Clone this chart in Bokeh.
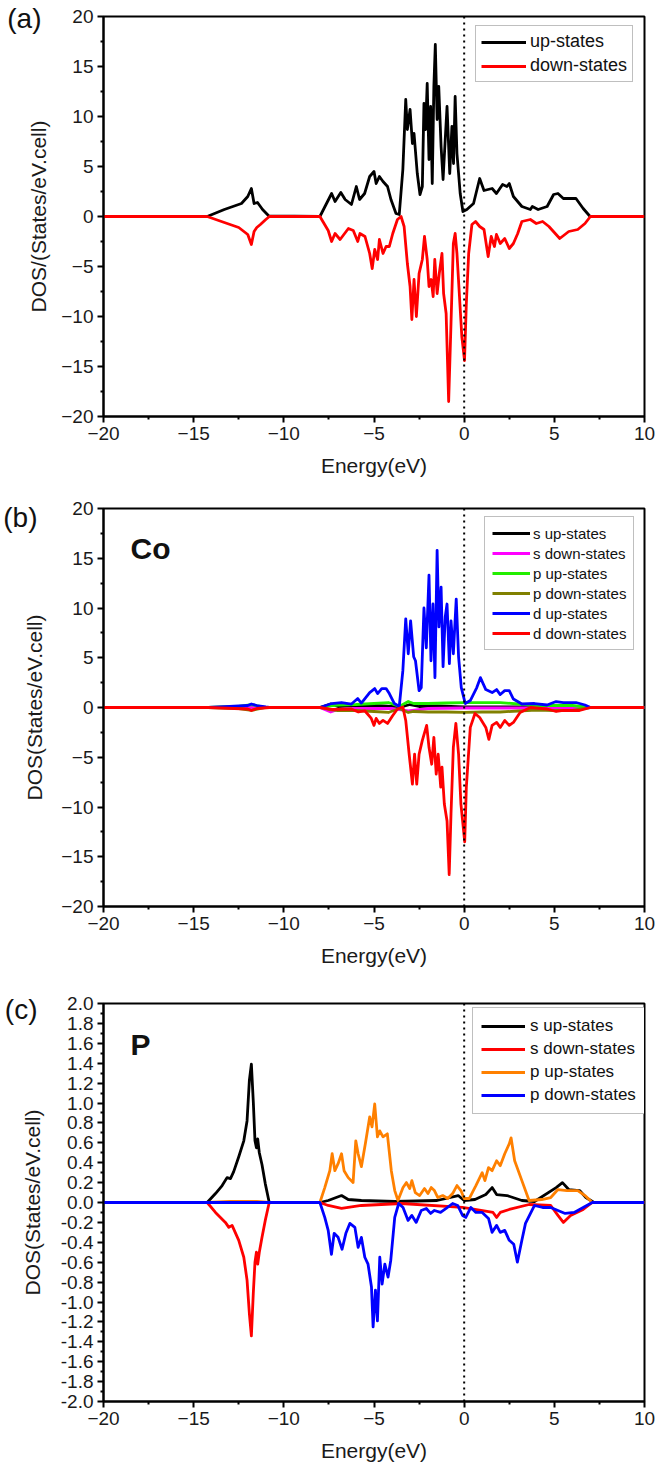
from bokeh.plotting import figure
from bokeh.models import Range1d, FixedTicker, Span, Label, Legend, LegendItem, LinearAxis
from bokeh.layouts import column
from bokeh.embed import file_html
from bokeh.resources import INLINE

# ---------------- data (energy in eV, DOS) ----------------
x_ticks = [-20, -15, -10, -5, 0, 5, 10]
x_minor = [-17.5, -12.5, -7.5, -2.5, 2.5, 7.5]
y_ticks_ab = [-20, -15, -10, -5, 0, 5, 10, 15, 20]
y_minor_ab = [-17.5, -12.5, -7.5, -2.5, 2.5, 7.5, 12.5, 17.5]
y_ticks_c = [-2.0, -1.8, -1.6, -1.4, -1.2, -1.0, -0.8, -0.6, -0.4, -0.2, 0.0,
             0.2, 0.4, 0.6, 0.8, 1.0, 1.2, 1.4, 1.6, 1.8, 2.0]
y_tick_labels_c = ["-2.0", "-1.8", "-1.6", "-1.4", "-1.2", "-1.0", "-0.8", "-0.6", "-0.4", "-0.2", "0.0",
                   "0.2", "0.4", "0.6", "0.8", "1.0", "1.2", "1.4", "1.6", "1.8", "2.0"]
y_minor_c = [-1.9, -1.7, -1.5, -1.3, -1.1, -0.9, -0.7, -0.5, -0.3, -0.1,
             0.1, 0.3, 0.5, 0.7, 0.9, 1.1, 1.3, 1.5, 1.7, 1.9]

# panel (a): total DOS
a_up = [(-20, 0), (-14.25, 0), (-13.3, 0.7), (-12.35, 1.3), (-12.0, 2.0), (-11.8, 2.8), (-11.65, 1.3),
        (-11.46, 1.4), (-11.18, 0.7), (-10.83, 0.05), (-8.0, 0), (-7.35, 2.3), (-7.16, 1.5), (-6.84, 2.4),
        (-6.6, 1.7), (-6.25, 1.2), (-5.98, 3.0), (-5.8, 1.7), (-5.52, 2.3), (-5.24, 4.0), (-5.0, 4.5),
        (-4.88, 3.3), (-4.7, 4.0), (-4.5, 3.5), (-4.25, 3.0), (-4.06, 1.7), (-3.78, 0.3), (-3.6, 0.2),
        (-3.4, 4.7), (-3.24, 11.7), (-3.15, 8.7), (-3.0, 10.7), (-2.87, 7.3), (-2.78, 8.3), (-2.6, 4.3),
        (-2.45, 2.2), (-2.32, 3.0), (-2.23, 11.3), (-2.14, 8.7), (-2.05, 13.3), (-1.95, 5.7), (-1.86, 11.0),
        (-1.77, 3.3), (-1.68, 13.0), (-1.6, 17.2), (-1.5, 9.7), (-1.41, 13.0), (-1.28, 7.0), (-1.17, 3.7),
        (-1.05, 7.7), (-0.95, 11.0), (-0.8, 4.3), (-0.68, 9.0), (-0.59, 5.3), (-0.5, 12.0), (-0.4, 6.3),
        (-0.31, 4.3), (-0.22, 2.3), (-0.07, 0.5), (0.15, 0.7), (0.52, 1.3), (0.86, 3.8), (1.1, 2.6),
        (1.55, 2.8), (1.79, 2.3), (2.13, 3.2), (2.37, 3.0), (2.5, 3.3), (2.73, 2.0), (3.2, 1.0), (3.67, 0.7),
        (3.78, 1.0), (4.1, 0.7), (4.6, 1.0), (4.96, 2.2), (5.2, 2.3), (5.5, 1.8), (6.2, 1.8), (6.6, 0.8),
        (6.96, 0.05), (7.1, 0), (10, 0)]
a_down = [(-20, 0), (-14.25, 0), (-13.3, -0.6), (-12.5, -1.1), (-12.0, -1.8), (-11.8, -2.8), (-11.65, -1.5),
          (-11.5, -1.1), (-11.3, -0.8), (-11.0, -0.3), (-10.8, 0), (-8.0, 0), (-7.54, -1.4), (-7.35, -2.5),
          (-7.16, -1.7), (-6.88, -2.3), (-6.42, -1.2), (-6.15, -1.4), (-5.9, -2.5), (-5.78, -1.7), (-5.5, -2.0),
          (-5.24, -3.7), (-5.1, -5.2), (-4.96, -3.3), (-4.8, -4.3), (-4.7, -2.3), (-4.5, -3.7), (-4.33, -3.0),
          (-4.15, -3.0), (-3.96, -1.7), (-3.7, -0.3), (-3.5, 0.0), (-3.33, -1.0), (-3.15, -4.7), (-3.0, -7.0),
          (-2.9, -10.3), (-2.78, -6.3), (-2.65, -10.0), (-2.5, -5.7), (-2.32, -4.3), (-2.2, -2.0), (-2.05, -4.3),
          (-1.95, -7.0), (-1.83, -6.3), (-1.72, -8.0), (-1.63, -4.3), (-1.5, -7.7), (-1.38, -5.7), (-1.23, -3.7),
          (-1.14, -7.7), (-1.0, -9.7), (-0.86, -18.5), (-0.73, -10.7), (-0.6, -2.7), (-0.5, -1.7), (-0.4, -3.7),
          (-0.26, -8.0), (-0.13, -12.0), (0.02, -14.4), (0.12, -8.7), (0.25, -3.7), (0.43, -0.8), (0.63, -0.5),
          (0.86, -1.0), (1.1, -1.3), (1.33, -4.0), (1.5, -2.0), (1.68, -3.0), (1.79, -1.8), (2.0, -2.7),
          (2.25, -2.2), (2.5, -3.2), (2.73, -2.7), (2.97, -1.7), (3.2, -0.5), (3.67, -0.3), (4.0, -0.7),
          (4.35, -0.5), (4.7, -1.0), (5.1, -1.8), (5.3, -2.2), (5.8, -1.5), (6.3, -1.3), (6.7, -0.7),
          (7.0, 0), (10, 0)]

# panel (b): Co partial DOS
b_s_up = [(-20, 0), (-14.2, 0), (-12, 0.05), (-11, 0), (-8, 0), (-7.4, 0.35), (-7.0, 0.1), (-6.5, 0.15),
          (-5, 0.2), (-3.5, 0.05), (-3.0, 0.3), (-2.5, 0.1), (-1.5, 0.15), (0, 0.05), (1, 0.05), (3, 0.05),
          (5, 0.05), (7, 0), (10, 0)]
b_s_down = [(-20, 0), (-8, 0), (-7.4, -0.45), (-7.0, -0.2), (-6.0, -0.1), (-4, -0.1), (-3.1, -0.35),
            (-2.0, -0.1), (0, -0.05), (3, -0.05), (7, 0), (10, 0)]
b_p_up = [(-20, 0), (-14.2, 0), (-12.5, 0.1), (-11.8, 0.3), (-11, 0), (-8, 0), (-7.5, 0.15), (-7, 0.25),
          (-6, 0.3), (-5, 0.4), (-4.2, 0.5), (-3.6, 0.1), (-3.1, 0.6), (-2.8, 0.4), (-2.0, 0.4), (-1, 0.45),
          (0, 0.5), (1, 0.5), (2, 0.5), (3, 0.35), (4, 0.2), (5, 0.2), (6, 0.2), (7, 0), (10, 0)]
b_p_down = [(-20, 0), (-14.2, 0), (-12.5, -0.1), (-11.8, -0.3), (-11, 0), (-8, 0), (-7.5, -0.2), (-7, -0.3),
            (-6, -0.3), (-5, -0.4), (-4.2, -0.5), (-3.6, -0.1), (-3.1, -0.5), (-2.8, -0.4), (-2.0, -0.45),
            (-1, -0.45), (0, -0.5), (1, -0.45), (2, -0.45), (3, -0.35), (4, -0.25), (5, -0.3), (6, -0.3),
            (7, 0), (10, 0)]
b_d_up = [(-20, 0), (-14.2, 0), (-13, 0.1), (-12, 0.2), (-11.8, 0.35), (-11.5, 0.2), (-11, 0.05), (-10.8, 0),
          (-8.0, 0), (-7.35, 0.4), (-6.8, 0.5), (-6.25, 0.35), (-5.9, 0.9), (-5.7, 0.45), (-5.24, 1.5),
          (-4.96, 1.9), (-4.8, 1.4), (-4.57, 1.9), (-4.33, 1.9), (-4.15, 1.4), (-3.87, 0.4), (-3.6, 0.1),
          (-3.4, 3.7), (-3.24, 8.9), (-3.1, 5.4), (-2.97, 8.7), (-2.8, 5.1), (-2.7, 4.7), (-2.5, 1.7),
          (-2.38, 2.0), (-2.23, 10.0), (-2.1, 6.0), (-1.95, 13.3), (-1.84, 4.7), (-1.73, 10.4), (-1.62, 3.0),
          (-1.5, 15.8), (-1.4, 8.1), (-1.28, 12.1), (-1.17, 4.1), (-1.05, 9.1), (-0.95, 10.4), (-0.82, 4.4),
          (-0.73, 8.7), (-0.6, 5.4), (-0.44, 10.9), (-0.31, 5.1), (-0.16, 2.0), (0.06, 0.4), (0.34, 0.7),
          (0.7, 2.0), (0.9, 3.0), (1.2, 1.8), (1.55, 1.5), (1.8, 1.8), (2.0, 1.3), (2.25, 1.7), (2.5, 1.7),
          (2.73, 0.85), (3.2, 0.35), (3.9, 0.4), (4.6, 0.25), (5.1, 0.6), (5.5, 0.5), (6.2, 0.5), (6.7, 0.25),
          (7.0, 0), (10, 0)]
b_d_down = [(-20, 0), (-14.2, 0), (-12, -0.15), (-11.8, -0.3), (-11.5, -0.1), (-10.8, 0), (-8.0, 0),
            (-7.35, -0.2), (-6.25, -0.15), (-5.87, -0.45), (-5.5, -0.35), (-5.15, -1.1), (-5.0, -1.8),
            (-4.88, -1.1), (-4.7, -1.6), (-4.5, -1.3), (-4.25, -1.6), (-3.96, -0.8), (-3.7, -0.15), (-3.4, 0.05),
            (-3.24, -1.3), (-3.05, -4.7), (-2.87, -7.7), (-2.75, -4.7), (-2.63, -7.7), (-2.5, -4.7),
            (-2.32, -3.3), (-2.08, -1.8), (-1.95, -4.0), (-1.8, -5.7), (-1.68, -3.0), (-1.55, -6.7),
            (-1.44, -4.7), (-1.3, -8.0), (-1.23, -6.0), (-1.1, -9.7), (-0.95, -11.4), (-0.83, -16.8),
            (-0.73, -10.7), (-0.6, -4.0), (-0.46, -1.6), (-0.31, -4.7), (-0.18, -9.7), (0.03, -13.5),
            (0.12, -8.0), (0.34, -2.0), (0.6, -0.6), (0.86, -1.0), (1.2, -2.0), (1.37, -3.2), (1.55, -1.8),
            (1.8, -1.5), (2.0, -2.0), (2.25, -1.3), (2.5, -1.8), (2.73, -1.5), (3.1, -0.5), (3.67, 0),
            (4.6, -0.15), (5.1, -0.4), (5.5, -0.3), (6.4, -0.3), (7.0, 0), (10, 0)]

# panel (c): P partial DOS
c_s_up = [(-20, 0), (-14.25, 0), (-13.79, 0.09), (-13.42, 0.17), (-13.15, 0.25), (-12.96, 0.24), (-12.78, 0.31),
          (-12.5, 0.46), (-12.22, 0.62), (-12.04, 0.82), (-11.91, 1.23), (-11.8, 1.39), (-11.69, 1.0),
          (-11.6, 0.62), (-11.52, 0.55), (-11.45, 0.64), (-11.36, 0.5), (-11.21, 0.38), (-11.03, 0.19),
          (-10.81, 0), (-8.0, 0), (-7.54, 0.02), (-6.8, 0.07), (-6.43, 0.03), (-5.7, 0.02), (-3.85, 0.01),
          (-1.5, 0.02), (-0.33, 0.07), (0.0, 0.02), (0.6, 0.03), (1.2, 0.08), (1.55, 0.15), (1.8, 0.08),
          (2.37, 0.07), (3.2, 0.02), (3.9, 0.01), (5.1, 0.15), (5.45, 0.2), (5.8, 0.13), (6.4, 0.12),
          (6.75, 0.05), (7.2, 0), (10, 0)]
c_s_down = [(-20, 0), (-14.25, 0), (-13.79, -0.1), (-13.24, -0.2), (-13.05, -0.25), (-12.87, -0.23),
            (-12.5, -0.38), (-12.22, -0.55), (-12.04, -0.78), (-11.91, -1.12), (-11.8, -1.34), (-11.69, -0.9),
            (-11.6, -0.6), (-11.52, -0.5), (-11.45, -0.62), (-11.36, -0.5), (-11.21, -0.35), (-11.03, -0.18),
            (-10.81, 0), (-8.0, 0), (-7.54, -0.03), (-6.8, -0.06), (-5.7, -0.03), (-3.5, -0.01), (-0.1, -0.05),
            (0.6, -0.07), (1.6, -0.1), (1.8, -0.15), (2.0, -0.1), (2.5, -0.07), (3.6, -0.02), (4.8, -0.03),
            (5.2, -0.13), (5.5, -0.2), (5.9, -0.13), (6.6, -0.07), (7.1, 0), (10, 0)]
c_p_up = [(-20, 0), (-14.25, 0), (-13, 0.01), (-11.5, 0.01), (-10.8, 0), (-8.0, 0), (-7.73, 0.15), (-7.45, 0.32),
          (-7.32, 0.49), (-7.17, 0.32), (-6.99, 0.39), (-6.8, 0.49), (-6.66, 0.32), (-6.43, 0.25), (-6.16, 0.2),
          (-6.01, 0.62), (-5.88, 0.49), (-5.7, 0.36), (-5.48, 0.59), (-5.24, 0.86), (-5.11, 0.76), (-4.96, 0.99),
          (-4.81, 0.66), (-4.68, 0.72), (-4.5, 0.66), (-4.26, 0.69), (-4.04, 0.32), (-3.85, 0.12), (-3.67, 0.02),
          (-3.39, 0.15), (-3.2, 0.2), (-3.02, 0.14), (-2.9, 0.22), (-2.71, 0.1), (-2.47, 0.07), (-2.2, 0.14),
          (-2.01, 0.09), (-1.83, 0.15), (-1.65, 0.12), (-1.46, 0.05), (-1.19, 0.07), (-0.91, 0.04), (-0.64, 0.09),
          (-0.4, 0.17), (-0.18, 0.12), (0.0, 0.04), (0.28, 0.04), (0.65, 0.17), (1.0, 0.3), (1.15, 0.22),
          (1.35, 0.35), (1.55, 0.32), (1.8, 0.42), (2.0, 0.37), (2.25, 0.49), (2.5, 0.59), (2.6, 0.65),
          (2.8, 0.42), (3.2, 0.22), (3.6, 0.02), (4.3, 0.03), (4.8, 0.05), (5.2, 0.13), (5.7, 0.12), (6.3, 0.12),
          (6.7, 0.07), (7.1, 0), (10, 0)]
c_p_down = [(-20, 0), (-8.0, 0), (-7.73, -0.15), (-7.54, -0.28), (-7.36, -0.52), (-7.21, -0.31), (-6.99, -0.35),
            (-6.77, -0.47), (-6.56, -0.31), (-6.34, -0.21), (-6.06, -0.25), (-5.88, -0.45), (-5.7, -0.35),
            (-5.51, -0.55), (-5.33, -0.62), (-5.14, -0.85), (-5.05, -1.25), (-4.92, -0.88), (-4.81, -1.19),
            (-4.68, -0.55), (-4.55, -0.82), (-4.4, -0.62), (-4.22, -0.75), (-4.07, -0.58), (-3.85, -0.15),
            (-3.63, -0.01), (-3.39, -0.05), (-3.11, -0.18), (-2.9, -0.13), (-2.66, -0.2), (-2.38, -0.08),
            (-2.1, -0.06), (-1.86, -0.11), (-1.65, -0.08), (-1.31, -0.1), (-1.0, -0.06), (-0.64, -0.01),
            (-0.36, -0.03), (-0.09, -0.13), (0.09, -0.15), (0.37, -0.05), (0.65, -0.1), (1.0, -0.1),
            (1.35, -0.16), (1.55, -0.3), (1.8, -0.23), (2.0, -0.3), (2.25, -0.28), (2.5, -0.38), (2.75, -0.42),
            (2.95, -0.6), (3.2, -0.38), (3.4, -0.21), (3.9, -0.03), (4.35, -0.05), (4.8, -0.05), (5.2, -0.08),
            (5.6, -0.11), (6.1, -0.1), (6.5, -0.06), (7.1, 0), (10, 0)]

FONT = "Liberation Sans"


def make_fig(height, top, bottom, yr, yticks, yminor, ylabel, ylab_standoff, overrides=None):
    p = figure(width=670, height=height, x_range=Range1d(-20, 10), y_range=Range1d(*yr),
               output_backend="svg", toolbar_location=None,
               min_border_left=101, min_border_right=26, min_border_top=top, min_border_bottom=bottom)
    p.xgrid.visible = False
    p.ygrid.visible = False
    p.outline_line_color = "black"
    p.outline_line_width = 2
    p.outline_line_alpha = 1
    p.background_fill_color = "white"
    p.border_fill_color = "white"
    p.xaxis.ticker = FixedTicker(ticks=x_ticks, minor_ticks=x_minor)
    p.yaxis.ticker = FixedTicker(ticks=yticks, minor_ticks=yminor)
    if overrides:
        p.yaxis.major_label_overrides = overrides
    for ax in (p.xaxis[0], p.yaxis[0]):
        ax.axis_line_width = 2
        ax.axis_line_color = "black"
        ax.major_tick_line_width = 2
        ax.minor_tick_line_width = 2
        ax.major_tick_out = 6
        ax.major_tick_in = 0
        ax.minor_tick_out = 3
        ax.minor_tick_in = 0
        ax.major_label_text_font = FONT
        ax.major_label_text_font_size = "19px"
        ax.major_label_text_color = "#1a1a1a"
        ax.axis_label_text_font = FONT
        ax.axis_label_text_font_size = "21px"
        ax.axis_label_text_font_style = "normal"
        ax.axis_label_text_color = "#1a1a1a"
        ax.major_label_standoff = 4
    p.xaxis.axis_label = "Energy(eV)"
    p.xaxis.axis_label_standoff = 11
    p.yaxis.axis_label = ylabel
    p.yaxis.axis_label_standoff = ylab_standoff
    return p


def add_tag(p, ypos, text, standoff):
    # panel tag "(a)" etc. drawn as the only label of an extra, line-less outer axis
    ax = LinearAxis(ticker=FixedTicker(ticks=[ypos], minor_ticks=[]),
                    major_label_overrides={ypos: text},
                    axis_line_color=None, major_tick_line_color=None, minor_tick_line_color=None,
                    major_tick_out=0, major_tick_in=0, minor_tick_out=0, minor_tick_in=0,
                    major_label_standoff=standoff, major_label_text_font=FONT,
                    major_label_text_font_size="28px", major_label_text_color="#111111")
    p.add_layout(ax, "left")


def add_series(p, data, color):
    xs = [d[0] for d in data]
    ys = [d[1] for d in data]
    return p.line(xs, ys, line_color=color, line_width=2.8, line_join="round")


def add_legend(p, items, loc, font_size, glyph_w, label_h, spacing, padding, standoff):
    leg = Legend(items=[LegendItem(label=l, renderers=[r]) for l, r in items], location=loc,
                 label_text_font=FONT, label_text_font_size=font_size, label_text_color="#111111",
                 glyph_width=glyph_w, glyph_height=label_h, label_height=label_h,
                 spacing=spacing, padding=padding, margin=0, label_standoff=standoff,
                 border_line_color="#808080", border_line_width=1, background_fill_color="white",
                 background_fill_alpha=1)
    p.add_layout(leg)


def add_text(p, x, y, text, size, bold=False):
    p.add_layout(Label(x=x, y=y, text=text, text_font=FONT, text_font_size=size,
                       text_font_style="bold" if bold else "normal", text_baseline="middle",
                       text_align="left", text_color="#111111"))


# ---------- panel (a) ----------
pa = make_fig(498, 16, 82, (-20, 20), y_ticks_ab, y_minor_ab, "DOS/(States/eV.cell)", 8)
r1 = add_series(pa, a_up, "black")
r2 = add_series(pa, a_down, "#ff0000")
pa.add_layout(Span(location=0, dimension="height", line_color="black", line_dash="2 4", line_width=2))
add_legend(pa, [("up-states", r1), ("down-states", r2)], (372, 334), "18px", 45, 20, 3, 5, 4)
add_tag(pa, 19.8, "(a)", -17)

# ---------- panel (b) ----------
pb = make_fig(495, 10, 87, (-20, 20), y_ticks_ab, y_minor_ab, "DOS(States/eV.cell)", 12)
rb = [add_series(pb, b_s_up, "black"),
      add_series(pb, b_s_down, "#ff00ff"),
      add_series(pb, b_p_up, "#22ee00"),
      add_series(pb, b_p_down, "#808000"),
      add_series(pb, b_d_up, "#0000ff"),
      add_series(pb, b_d_down, "#ff0000")]
pb.add_layout(Span(location=0, dimension="height", line_color="black", line_dash="2 4", line_width=2))
labels_b = ["s up-states", "s down-states", "p up-states", "p down-states", "d up-states", "d down-states"]
add_legend(pb, list(zip(labels_b, rb)), (381, 256), "15px", 38, 18, 2, 7, 3)
add_tag(pb, 19.1, "(b)", -17)
add_text(pb, -18.5, 16.0, "Co", "30px", bold=True)

# ---------- panel (c) ----------
pc = make_fig(475, 10, 67, (-2, 2), y_ticks_c, y_minor_c, "DOS(States/eV.cell)", 14,
              overrides={t: l for t, l in zip(y_ticks_c, y_tick_labels_c)})
rc = [add_series(pc, c_s_up, "black"),
      add_series(pc, c_s_down, "#ff0000"),
      add_series(pc, c_p_up, "#ff8000"),
      add_series(pc, c_p_down, "#0000ff")]
pc.add_layout(Span(location=0, dimension="height", line_color="black", line_dash="2 4", line_width=2))
labels_c = ["s up-states", "s down-states", "p up-states", "p down-states"]
add_legend(pc, list(zip(labels_c, rc)), (369, 287), "17px", 44, 20, 3, 8, 5)
add_tag(pc, 1.94, "(c)", -20)
add_text(pc, -18.5, 1.59, "P", "30px", bold=True)

layout = column(pa, pb, pc, spacing=0)
open("out.html", "w").write(file_html(layout, INLINE))
